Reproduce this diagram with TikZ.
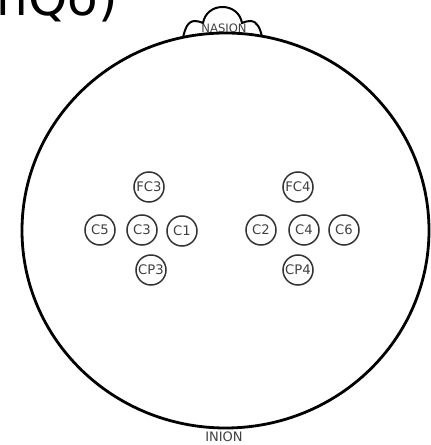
\documentclass[tikz,border=0pt]{standalone}
\usepackage{fontspec}
\setmainfont{DejaVu Sans}
\usepackage{xcolor}

\begin{document}
\begin{tikzpicture}[x=0.5pt, y=0.5pt,
    electrode/.style={circle, draw=black!80, line width=0.75pt, minimum size=15pt,
        inner sep=0pt, text=black!75, font=\fontsize{6.6}{7}\selectfont}]
        \useasboundingbox (0,0) rectangle (430,445);
        % the cut title at the top
        \begin{scope}
            \clip (0,0) rectangle (430,445);
            \node[anchor=base west, inner sep=0pt, font=\fontsize{25}{25}\selectfont] (title) at (-4,429) {nQo)};
        \end{scope}
        % the head and the nose
        \draw[black, line width=1.4pt] (225.5,214.5) ellipse [x radius=203.5, y radius=197.5];
        \draw[black, line width=1pt] (183,407.6) to[out=75,in=180] (195,424) to[out=0,in=160] (203,422)
            to[out=80,in=180] (222.5,438) to[out=0,in=100] (242,422)
            to[out=20,in=180] (250,424) to[out=0,in=105] (262,408.8);
        \node[text=black!75, font=\fontsize{5.8}{6}\selectfont] (nasion) at (224,417) {NASION};
        \node[text=black!75, font=\fontsize{6.5}{7}\selectfont] (inion) at (224,8) {INION};
        % the electrodes
        \foreach \pos/\lab in {{(149,258)}/FC3, {(100,215)}/C5, {(142,215)}/C3, {(182,214)}/C1, {(151,175)}/CP3,
                               {(298,258)}/FC4, {(261,215)}/C2, {(304,215)}/C4, {(344,215)}/C6, {(298,175)}/CP4}
            \node[electrode] (\lab) at \pos {\lab};
    \end{tikzpicture}
\end{document}
